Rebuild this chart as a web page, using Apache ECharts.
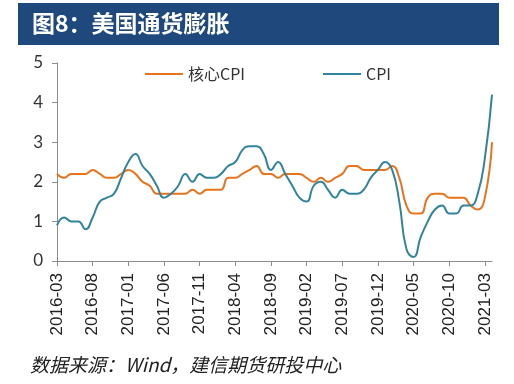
<!DOCTYPE html>
<html>
<head>
<meta charset="utf-8">
<script src="https://cdn.jsdelivr.net/npm/echarts@6/dist/echarts.min.js"></script>
<style>
html,body{margin:0;padding:0;background:#fff;}
#c{width:514px;height:384px;}
</style>
</head>
<body>
<div id="c"></div>
<script>
var months = [
'2016-03','2016-04','2016-05','2016-06','2016-07','2016-08','2016-09','2016-10','2016-11','2016-12',
'2017-01','2017-02','2017-03','2017-04','2017-05','2017-06','2017-07','2017-08','2017-09','2017-10','2017-11','2017-12',
'2018-01','2018-02','2018-03','2018-04','2018-05','2018-06','2018-07','2018-08','2018-09','2018-10','2018-11','2018-12',
'2019-01','2019-02','2019-03','2019-04','2019-05','2019-06','2019-07','2019-08','2019-09','2019-10','2019-11','2019-12',
'2020-01','2020-02','2020-03','2020-04','2020-05','2020-06','2020-07','2020-08','2020-09','2020-10','2020-11','2020-12',
'2021-01','2021-02','2021-03','2021-04'
];
var coreCPI = [
2.2,2.1,2.2,2.2,2.2,2.3,2.2,2.1,2.1,2.2,
2.3,2.2,2.0,1.9,1.7,1.7,1.7,1.7,1.7,1.8,1.7,1.8,
1.8,1.8,2.1,2.1,2.2,2.3,2.4,2.2,2.2,2.1,2.2,2.2,
2.2,2.1,2.0,2.1,2.0,2.1,2.2,2.4,2.4,2.3,2.3,2.3,
2.3,2.4,2.1,1.4,1.2,1.2,1.6,1.7,1.7,1.6,1.6,1.6,
1.4,1.3,1.6,3.0
];
var cpi = [
0.9,1.1,1.0,1.0,0.8,1.1,1.5,1.6,1.7,2.1,
2.5,2.7,2.4,2.2,1.9,1.6,1.7,1.9,2.2,2.0,2.2,2.1,
2.1,2.2,2.4,2.5,2.8,2.9,2.9,2.7,2.3,2.5,2.2,1.9,
1.6,1.5,1.9,2.0,1.8,1.6,1.8,1.7,1.7,1.8,2.1,2.3,
2.5,2.3,1.5,0.3,0.1,0.6,1.0,1.3,1.4,1.2,1.2,1.4,
1.4,1.7,2.6,4.2
];
var seriesNames = ['核心CPI', 'CPI'];
var titleText = '图8：美国通货膨胀';
var sourceText = '数据来源：Wind，建信期货研投中心';

var chart = echarts.init(document.getElementById('c'), null, {renderer: 'canvas'});
var axisColor = '#8c8c8c';
chart.setOption({
  animation: false,
  backgroundColor: '#fff',
  graphic: [
    {type: 'rect', left: 18, top: 3, shape: {width: 481, height: 42}, style: {fill: '#1F497D'}},
    {type: 'text', left: 32, top: 12, style: {text: titleText, fill: '#fff', font: 'bold 23px "Noto Sans CJK SC"'}},
    {type: 'text', left: 30, top: 355, style: {text: sourceText, fill: '#222', font: 'italic 19px "Noto Sans CJK SC"'}}
  ],
  legend: {
    top: 61,
    left: 140,
    icon: 'rect',
    itemWidth: 38,
    itemHeight: 2,
    itemGap: 78,
    textStyle: {fontSize: 16, color: '#333', fontFamily: '"Noto Sans CJK SC", "Liberation Sans"'},
    data: seriesNames
  },
  grid: {left: 57, right: 22, top: 63, bottom: 123, containLabel: false},
  xAxis: {
    type: 'category',
    data: months,
    boundaryGap: false,
    axisLine: {lineStyle: {color: axisColor, width: 1}},
    axisTick: {interval: 4, length: 5, lineStyle: {color: axisColor}},
    axisLabel: {interval: 4, rotate: 90, margin: 12, fontSize: 17, color: '#222', fontFamily: '"Liberation Sans", Arial'},
    splitLine: {show: false}
  },
  yAxis: {
    type: 'value',
    min: 0, max: 5, interval: 1,
    axisLine: {show: true, lineStyle: {color: axisColor, width: 1}},
    axisTick: {show: true, length: 5, lineStyle: {color: axisColor}},
    axisLabel: {fontSize: 17, color: '#333', margin: 14, fontFamily: 'Lato, "Liberation Sans"'},
    splitLine: {show: false}
  },
  series: [
    {name: seriesNames[0], type: 'line', data: coreCPI, symbol: 'none', smooth: 0.5,
     lineStyle: {color: '#E8731C', width: 2}, itemStyle: {color: '#E8731C'}},
    {name: seriesNames[1], type: 'line', data: cpi, symbol: 'none', smooth: 0.5,
     lineStyle: {color: '#31849B', width: 2}, itemStyle: {color: '#31849B'}}
  ]
});
</script>
</body>
</html>
